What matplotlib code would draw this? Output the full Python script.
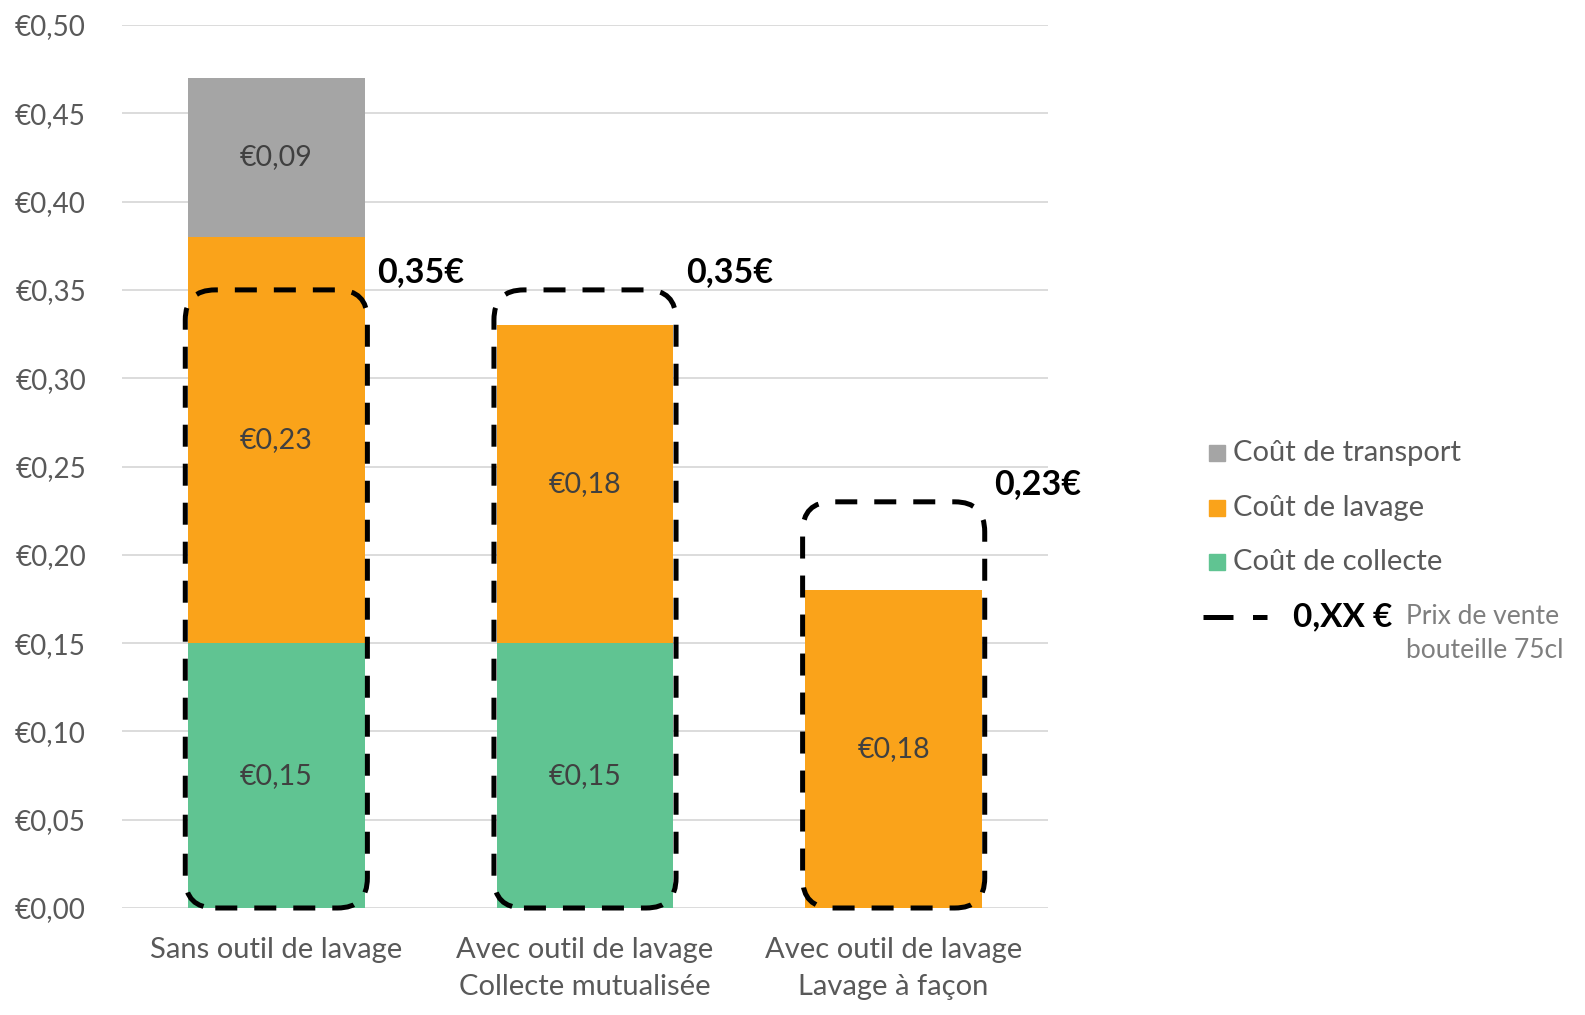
import matplotlib.pyplot as plt
from matplotlib.patches import FancyBboxPatch, Rectangle
from matplotlib.lines import Line2D
from matplotlib.transforms import IdentityTransform

plt.rcParams['font.family'] = ['Lato', 'DejaVu Sans']

categories = ['Sans outil de lavage',
              'Avec outil de lavage\nCollecte mutualisée',
              'Avec outil de lavage\nLavage à façon']
collecte = [0.15, 0.15, 0.0]
lavage = [0.23, 0.18, 0.18]
transport = [0.09, 0.0, 0.0]
prix_vente = [0.35, 0.35, 0.23]
prix_labels = ['0,35€', '0,35€', '0,23€']
yticks = [0.0, 0.05, 0.10, 0.15, 0.20, 0.25, 0.30, 0.35, 0.40, 0.45, 0.50]
series_names = ['Coût de transport', 'Coût de lavage', 'Coût de collecte']

c_transport = '#A5A5A5'
c_lavage = '#FAA31A'
c_collecte = '#60C492'
txt_color = '#595959'


def euro(v):
    return '€' + f'{v:.2f}'.replace('.', ',')


def main():
    fig = plt.figure(figsize=(15.85, 10.15), dpi=100)
    ax = fig.add_axes([122 / 1585, 107 / 1015, 926 / 1585, 883 / 1015])

    x = range(len(categories))
    width = 0.573
    bottoms2 = [a + b for a, b in zip(collecte, lavage)]
    b1 = ax.bar(x, collecte, width, color=c_collecte)
    b2 = ax.bar(x, lavage, width, bottom=collecte, color=c_lavage)
    b3 = ax.bar(x, transport, width, bottom=bottoms2, color=c_transport)

    # value labels in the middle of each segment
    for bars, vals, bots in [(b1, collecte, [0, 0, 0]), (b2, lavage, collecte), (b3, transport, bottoms2)]:
        for i, (v, b) in enumerate(zip(vals, bots)):
            if v > 0:
                ax.text(i, b + v / 2, euro(v), ha='center', va='center',
                        fontsize=20.5, color='#404040')

    ax.set_xlim(-0.5, 2.5)
    ax.set_ylim(0, 0.5)
    ax.set_yticks(yticks)
    ax.set_yticklabels([euro(v) for v in yticks])
    ax.set_xticks(list(x))
    ax.set_xticklabels(categories, linespacing=1.5)
    ax.tick_params(axis='y', length=0, pad=26, labelsize=20, labelcolor=txt_color)
    ax.tick_params(axis='x', length=0, pad=21, labelsize=21, labelcolor=txt_color)
    for s in ax.spines.values():
        s.set_visible(False)
    ax.yaxis.grid(True, color='#D9D9D9', lw=1.3)
    ax.set_axisbelow(True)

    # dashed rounded boxes for the selling price
    box_half = 0.295
    for i, p in enumerate(prix_vente):
        x0, y0 = ax.transData.transform((i - box_half, 0))
        x1, y1 = ax.transData.transform((i + box_half, p))
        box = FancyBboxPatch((x0, y0), x1 - x0, y1 - y0,
                             boxstyle='round,pad=0,rounding_size=30',
                             transform=IdentityTransform(), fill=False,
                             ec='black', lw=3.6, ls=(0, (4.4, 3.4)), clip_on=False)
        fig.add_artist(box)
        ax.annotate(prix_labels[i], (i + box_half, p), xytext=(7, 13),
                    textcoords='offset points', ha='left', va='center',
                    fontsize=24.5, fontweight='bold', color='black',
                    annotation_clip=False)

    # legend, drawn by hand
    W, H = 1585, 1015
    colors = [c_transport, c_lavage, c_collecte]
    ys = [453, 508, 562]
    for name, c, y in zip(series_names, colors, ys):
        fig.patches.append(Rectangle((1209 / W, 1 - (y + 8) / H), 16 / W, 16 / H,
                                     transform=fig.transFigure, color=c))
        fig.text(1233 / W, 1 - y / H, name, ha='left', va='center',
                 fontsize=21, color=txt_color)
    fig.add_artist(Line2D([1203 / W, 1267 / W], [1 - 617 / H, 1 - 617 / H],
                          color='black', lw=3.6, ls=(0, (6, 3.9)),
                          transform=fig.transFigure))
    fig.text(1293 / W, 1 - 617 / H, '0,XX €', ha='left', va='center',
             fontsize=24, fontweight='bold', color='black')
    fig.text(1406 / W, 1 - 617 / H, 'Prix de vente', ha='left', va='center',
             fontsize=19, color='#7F7F7F')
    fig.text(1406 / W, 1 - 651 / H, 'bouteille 75cl', ha='left', va='center',
             fontsize=19, color='#7F7F7F')

    fig.savefig('out.png', dpi=100)


if __name__ == "__main__":
    main()
